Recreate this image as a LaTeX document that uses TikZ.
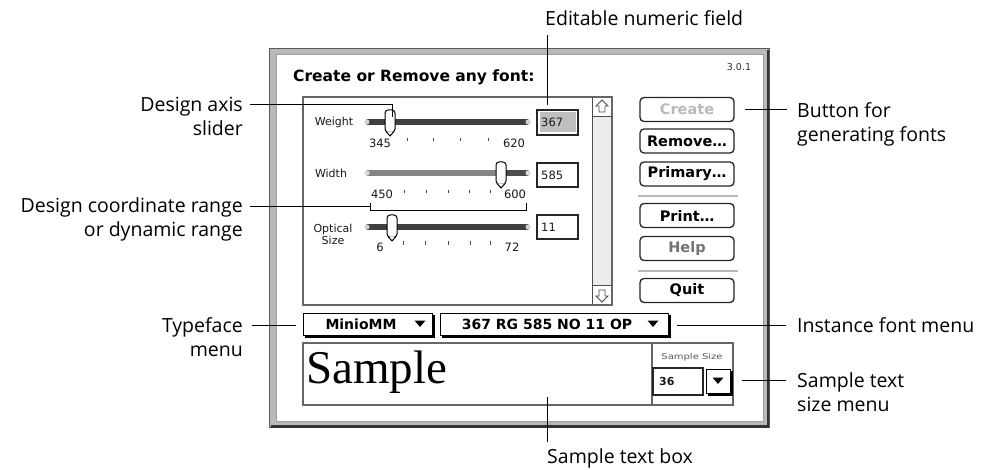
\documentclass[tikz,border=0pt]{standalone}
\usepackage{fontspec}
\setmainfont{Open Sans}
\newfontfamily\chicago{DejaVu Sans}
\newfontfamily\geneva{DejaVu Sans}
\newfontfamily\samplefont{Liberation Serif}
\usetikzlibrary{calc}
\begin{document}
\begin{tikzpicture}[x=1pt,y=-1pt,
  annot/.style={font=\fontsize{19.5}{24}\selectfont, inner sep=0pt},
  leader/.style={draw=black, line width=1pt},
  btn/.style={draw=black!85, line width=1.3pt, rounded corners=4pt, fill=white, minimum width=94pt, minimum height=24pt, inner sep=0pt, font=\chicago\bfseries\fontsize{14.5}{16}\selectfont},
  lbl/.style={font=\geneva\fontsize{11}{12}\selectfont, inner sep=0pt, text=black!90},
  num/.style={font=\geneva\fontsize{11.5}{12}\selectfont, inner sep=0pt, text=black!90},
  fieldbox/.style={draw=black!85, line width=1.2pt, fill=white, inner sep=0pt},
  thumbk/.style={draw=black, fill=white, line width=1pt, rounded corners=3pt, minimum width=10pt, minimum height=22pt, inner sep=0pt},
  tick/.style={draw=black!70, line width=1pt},
  trk/.style={line width=6pt, line cap=round},
  menutext/.style={font=\chicago\bfseries\fontsize{14}{16}\selectfont, inner sep=0pt},
  tri/.style={fill=black},
]
\useasboundingbox (0,0) rectangle (981,470);

% ---- window frame ----
\fill[gray!55] (269,48) rectangle (770,428);
\draw[black!65, line width=1pt] (269.5,48.5) rectangle (769.5,427.5);
\draw[black!80, line width=2.5pt] (768,50) -- (768,426.5) -- (271,426.5);
\fill[white] (276,55) rectangle (763,421);
\draw[gray!75, line width=1pt] (276,55) rectangle (763,421);

\node[anchor=west, font=\chicago\bfseries\fontsize{15.5}{18}\selectfont, inner sep=0pt] (title) at (293,77) {Create or Remove any font:};
\node[font=\geneva\fontsize{9.5}{10}\selectfont, inner sep=0pt, text=black!80] (ver) at (739,67) {3.0.1};

% ---- slider panel ----
\fill[gray!15] (592,97) rectangle (612,305);
\draw[black!60, line width=1.5pt] (303,97) rectangle (612,305);
\draw[black!70, line width=1pt] (592,97) -- (592,305);
\draw[black!70, line width=1pt] (592,117) -- (612,117);
\draw[black!70, line width=1pt] (592,285) -- (612,285);
\fill[white] (593,98) rectangle (611,116.5);
\fill[white] (593,285.5) rectangle (611,304);
\draw[black!70, line width=0.8pt] (602,100) -- (608,106) -- (605,106) -- (605,112) -- (599,112) -- (599,106) -- (596,106) -- cycle;
\draw[black!70, line width=0.8pt] (602,302) -- (608,296) -- (605,296) -- (605,290) -- (599,290) -- (599,296) -- (596,296) -- cycle;

% Weight row
\node[lbl] (lweight) at (334,122) {Weight};
\draw[trk, draw=black!75] (368,122) -- (527,122);
\fill[gray!35] (367,122) circle (2.5);
\fill[gray!35] (528,122) circle (2.5);
\node[thumbk] (thw) at (390,121) {};
\draw[black, line width=1pt, fill=white] (386,131.5) -- (390,136) -- (394,131.5);
\node[num] (w345) at (380,143) {345};
\node[num] (w620) at (514,143) {620};
\foreach \x in {407,433,460,488} \draw[tick] (\x,138) -- (\x,141.5);
\node[fieldbox, minimum width=41pt, minimum height=25pt] (fweight) at (557.5,122.5) {};
\fill[gray!50] (539.5,112.5) rectangle (575.5,132.5);
\node[num, anchor=west] (vweight) at (541,122.5) {367};

% Width row
\node[lbl] (lwidth) at (331,173) {Width};
\draw[trk, draw=black!48] (368,173) -- (500,173);
\draw[trk, draw=black!70] (500,173) -- (527,173);
\fill[gray!30] (367,173) circle (2.5);
\fill[gray!30] (528,173) circle (2.5);
\node[thumbk] (thwd) at (501,173) {};
\draw[black, line width=1pt, fill=white] (497,183.5) -- (501,188) -- (505,183.5);
\node[num] (d450) at (382,194.5) {450};
\node[num] (d600) at (515,194.5) {600};
\foreach \x in {404,426,448,469,490} \draw[tick] (\x,190) -- (\x,193.5);
\node[fieldbox, minimum width=41pt, minimum height=24pt] (fwidth) at (557.5,175) {};
\node[num, anchor=west] (vwidth) at (541,175) {585};

% range bracket
\draw[black, line width=1pt] (370,203) -- (370,211) -- (526,211) -- (526,203);
\coordinate (brk) at (370,207);

% Optical size row
\node[lbl, align=center] (lopt) at (333,234) {Optical\\Size};
\draw[trk, draw=black!75] (368,227) -- (527,227);
\fill[gray!35] (367,227) circle (2.5);
\fill[gray!35] (528,227) circle (2.5);
\node[thumbk] (tho) at (392,226) {};
\draw[black, line width=1pt, fill=white] (388,236.5) -- (392,241) -- (396,236.5);
\node[num] (o6) at (380,247) {6};
\node[num] (o72) at (512,247) {72};
\foreach \x in {403,425,448,470,490} \draw[tick] (\x,241) -- (\x,244.5);
\node[fieldbox, minimum width=41pt, minimum height=24pt] (fopt) at (557.5,227) {};
\node[num, anchor=west] (vopt) at (541,227) {11};

% ---- buttons ----
\node[btn, text=gray!55] (bcreate) at (687,109.5) {Create};
\node[btn] (bremove) at (687,141) {Remove…};
\node[btn] (bprimary) at (687,174) {Primary…};
\draw[gray!55, line width=1.5pt] (638,196) -- (738,196);
\node[btn] (bprint) at (687,215.5) {Print…};
\node[btn, text=black!55] (bhelp) at (687,248.5) {Help};
\draw[gray!55, line width=1.5pt] (638,271) -- (738,271);
\node[btn] (bquit) at (687,290.5) {Quit};

% ---- menus ----
\draw[black, line width=2pt] (434,315) -- (434,336.5) -- (305,336.5);
\node[draw=black, line width=1pt, fill=white, minimum width=129pt, minimum height=22pt, inner sep=0pt] (mtype) at (367.5,324) {};
\node[menutext] (ttype) at (361,324) {MinioMM};
\fill[tri] (414.5,320.5) -- (425.5,320.5) -- (420,327) -- cycle;

\draw[black, line width=2pt] (670,315) -- (670,336.5) -- (442,336.5);
\node[draw=black, line width=1pt, fill=white, minimum width=228pt, minimum height=22pt, inner sep=0pt] (minst) at (554,324) {};
\node[menutext] (tinst) at (547,324) {367 RG 585 NO 11 OP};
\fill[tri] (647.5,320.5) -- (658.5,320.5) -- (653,327) -- cycle;

% ---- sample box ----
\node[draw=black!60, line width=1.5pt, fill=white, minimum width=430pt, minimum height=62pt, inner sep=0pt] (sbox) at (518,374) {};
\draw[black!60, line width=1.2pt] (652,343) -- (652,405);
\node[anchor=base west, font=\samplefont\fontsize{47}{47}\selectfont, inner sep=0pt] (sample) at (306,383) {Sample};
\node[font=\geneva\fontsize{8}{9}\selectfont, inner sep=0pt, text=black!65, xscale=1.25] (lss) at (692,357) {Sample Size};
\node[fieldbox, minimum width=50pt, minimum height=27pt] (fsize) at (678,381.5) {};
\node[num, anchor=west, font=\geneva\bfseries\fontsize{11}{12}\selectfont] (vsize) at (659,381.5) {36};
\draw[black, line width=2pt] (732,371) -- (732,394.5) -- (708,394.5);
\node[draw=black, line width=1pt, fill=white, minimum width=24pt, minimum height=24pt, inner sep=0pt] (dsize) at (718,381) {};
\fill[tri] (712.5,377.5) -- (723.5,377.5) -- (718,384) -- cycle;

% ---- annotations ----
\node[annot, anchor=west] (aedit) at (545,18) {Editable numeric field};
\coordinate (editA) at (547,35);
\coordinate (editB) at (547,105);
\draw[leader] (editA) -- (editB);

\node[annot, anchor=north east, align=right] (aslider) at (243,97) {Design axis\\slider};
\coordinate (sliderA) at (250,105);
\coordinate (sliderB) at (392,117);
\draw[leader] (sliderA) -| (sliderB);

\node[annot, anchor=north east, align=right] (arange) at (243,197) {Design coordinate range\\or dynamic range};
\coordinate (rangeA) at (250,207);
\draw[leader] (rangeA) -- (brk);

\node[annot, anchor=north east, align=right] (atype) at (243,317) {Typeface\\menu};
\coordinate (typeA) at (252,325);
\coordinate (typeB) at (296,325);
\draw[leader] (typeA) -- (typeB);

\node[annot, anchor=north west, align=left] (abutton) at (797,102) {Button for\\generating fonts};
\coordinate (btnA) at (745,110);
\coordinate (btnB) at (787,110);
\draw[leader] (btnA) -- (btnB);

\node[annot, anchor=north west] (ainst) at (797,317) {Instance font menu};
\coordinate (instA) at (677,325);
\coordinate (instB) at (786,325);
\draw[leader] (instA) -- (instB);

\node[annot, anchor=north west, align=left] (asize) at (797,372) {Sample text\\size menu};
\coordinate (sizeA) at (742,380);
\coordinate (sizeB) at (786,380);
\draw[leader] (sizeA) -- (sizeB);

\node[annot, anchor=west] (abox) at (547,458) {Sample text box};
\coordinate (boxA) at (547,397);
\coordinate (boxB) at (547,442);
\draw[leader] (boxA) -- (boxB);
\end{tikzpicture}
\end{document}
